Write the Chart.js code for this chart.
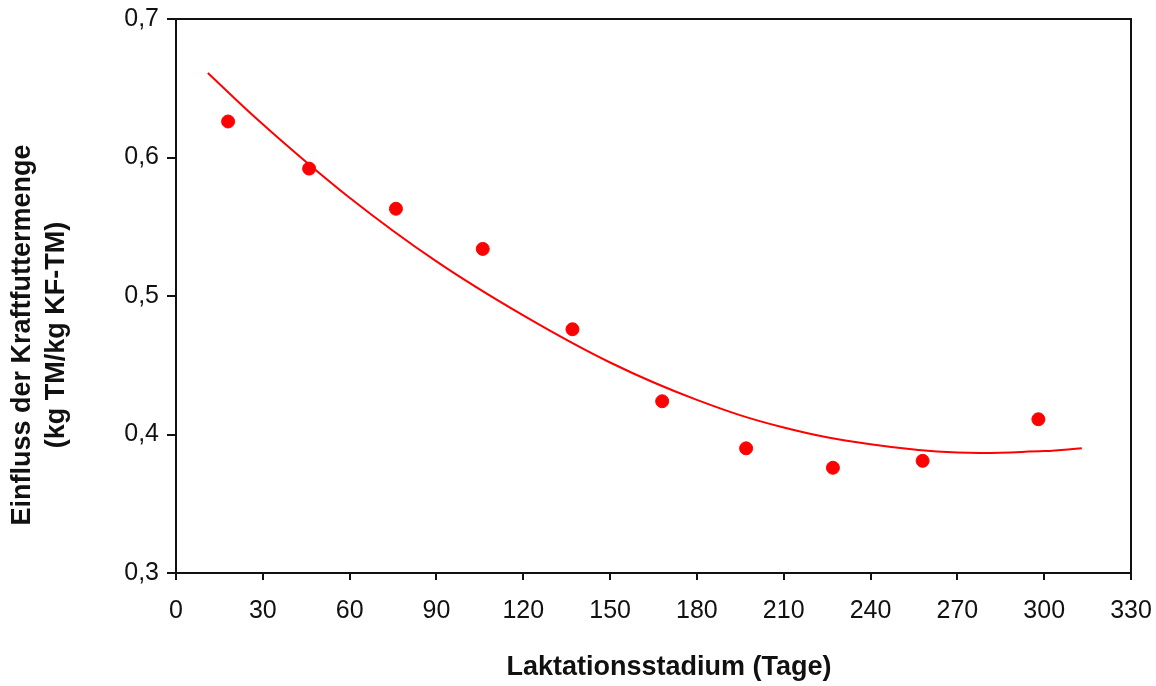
<!DOCTYPE html>
<html>
<head>
<meta charset="utf-8">
<script src="https://cdn.jsdelivr.net/npm/chart.js@4.4.1/dist/chart.umd.min.js"></script>
<style>
  html, body { margin: 0; padding: 0; background: #fff; }
  #wrap { width: 1156px; height: 686px; }
</style>
</head>
<body>
<div id="wrap"><canvas id="chart"></canvas></div>
<script>
// Messpunkte (Laktationstag / Einfluss)
const pointDays = [18, 46, 76, 106, 137, 168, 197, 227, 258, 298];
const pointValues = [0.626, 0.592, 0.563, 0.534, 0.476, 0.424, 0.390, 0.376, 0.381, 0.411];

// Trendlinie
const trendDays = [11, 30, 60, 90, 120, 150, 180, 210, 240, 270, 300, 313];
const trendValues = [0.661, 0.624, 0.571, 0.525, 0.486, 0.452, 0.425, 0.405, 0.393, 0.387, 0.388, 0.390];

const xTitle = 'Laktationsstadium (Tage)';
const yTitle = ['Einfluss der Kraftfuttermenge', '(kg TM/kg KF-TM)'];

const FONT = '"Liberation Sans", Arial, sans-serif';
const fmt = v => v.toFixed(1).replace('.', ',');

// Rahmen + Achsentitel
const frame = {
  id: 'frame',
  afterDraw(chart) {
    const { ctx, chartArea: a } = chart;
    ctx.save();
    ctx.strokeStyle = '#111';
    ctx.lineWidth = 2;
    ctx.strokeRect(a.left, a.top, a.right - a.left, a.bottom - a.top);

    ctx.fillStyle = '#111';
    ctx.font = 'bold 27px ' + FONT;
    ctx.textAlign = 'center';
    ctx.textBaseline = 'middle';
    ctx.fillText(xTitle, 669, 668);

    ctx.translate(0, 335);
    ctx.rotate(-Math.PI / 2);
    ctx.fillText(yTitle[0], 0, 23);
    ctx.fillText(yTitle[1], 0, 57);
    ctx.restore();
  }
};

new Chart(document.getElementById('chart'), {
  type: 'scatter',
  data: {
    datasets: [
      {
        type: 'line',
        data: trendDays.map((d, i) => ({ x: d, y: trendValues[i] })),
        borderColor: '#ff0000',
        borderWidth: 2,
        pointRadius: 0,
        tension: 0.4,
        fill: false
      },
      {
        data: pointDays.map((d, i) => ({ x: d, y: pointValues[i] })),
        backgroundColor: '#ff0000',
        borderColor: '#ff0000',
        pointRadius: 6.5,
        pointHoverRadius: 6.5
      }
    ]
  },
  options: {
    responsive: true,
    maintainAspectRatio: false,
    animation: false,
    layout: { padding: { left: 0, right: 25, top: 19, bottom: 0 } },
    plugins: { legend: { display: false }, tooltip: { enabled: false } },
    scales: {
      x: {
        type: 'linear',
        min: 0,
        max: 330,
        afterFit: s => { s.height = 113; s.paddingLeft = 0; s.paddingRight = 0; },
        border: { color: '#111', width: 2 },
        grid: { drawOnChartArea: false, drawTicks: true, tickLength: 7, color: '#111', lineWidth: 2 },
        ticks: { stepSize: 30, color: '#111', padding: 16, font: { family: FONT, size: 25 } }
      },
      y: {
        min: 0.3,
        max: 0.7,
        afterFit: s => { s.width = 176; s.paddingTop = 0; s.paddingBottom = 0; },
        border: { color: '#111', width: 2 },
        grid: { drawOnChartArea: false, drawTicks: true, tickLength: 9, color: '#111', lineWidth: 2 },
        ticks: { stepSize: 0.1, color: '#111', padding: 8, font: { family: FONT, size: 25 }, callback: v => fmt(v) }
      }
    }
  },
  plugins: [frame]
});
</script>
</body>
</html>
